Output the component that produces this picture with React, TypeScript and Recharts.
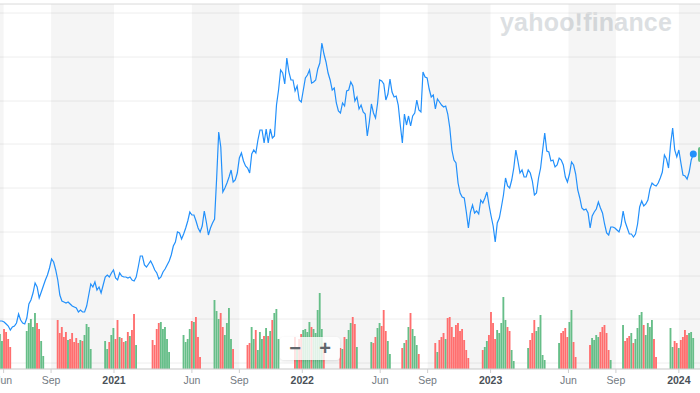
import React from 'react';
import {
  ComposedChart,
  Line,
  Bar,
  Cell,
  XAxis,
  YAxis,
  CartesianGrid,
  ReferenceArea,
  ReferenceLine,
  ReferenceDot,
} from 'recharts';

// ---- data (one sample every 4 calendar days, starting 2020-05-25) ----
const firstSession = '2020-05-25';
const stepDays = 4;

const closes2020 = [
  79, 79, 78, 76, 74, 70, 73, 74, 77, 86,
  80, 77, 76, 82, 96, 100, 107, 117, 113, 102,
  108, 114, 120, 125, 132, 141, 138, 130, 120, 105,
  99, 98, 97, 98, 96, 94, 93, 92, 88, 90,
  88, 88, 94, 105, 116, 113, 118, 110, 113, 107,
  115, 123, 125, 123, 127, 130,
];
const closes2021 = [
  122, 120, 127, 124,
  123, 123, 122, 123, 120, 119, 123, 133, 144, 144,
  135, 133, 136, 139, 135, 130, 127, 121, 123, 128,
  131, 135, 139, 145, 154, 158, 168, 167, 161, 166,
  172, 179, 188, 185, 185, 179, 172, 168, 174, 189,
  178, 165, 172, 177, 181, 222, 268, 253, 208, 212,
  217, 223, 230, 218, 220, 227, 242, 247, 239, 234,
  232, 227, 246, 250, 247, 260, 270, 270, 257, 271,
  257, 271, 262, 264, 295, 310, 330, 327, 316, 342,
  328, 320, 320, 309, 314, 300, 298,
];
const closes2022 = [
  310, 322, 325,
  330, 317, 318, 320, 331, 337, 357, 346, 338, 327,
  320, 310, 312, 297, 289, 287, 297, 294, 309, 310,
  318, 314, 299, 303, 291, 295, 288, 286, 264, 278,
  296, 287, 282, 297, 320, 319, 316, 300, 306, 321,
  308, 303, 304, 295, 275, 257, 286, 275, 284, 274,
  284, 287, 300, 290, 288, 328, 323, 322, 311, 303,
  305, 291, 301, 298, 295, 293, 294, 286, 272, 250,
  240, 237, 217, 207, 203, 202, 188, 172, 188, 195,
  187, 189, 186, 200, 197, 202, 208, 195,
];
const closes2023 = [
  184, 174,
  158, 177, 182, 193, 205, 222, 214, 212, 220, 232,
  250, 239, 227, 230, 223, 223, 230, 227, 219, 205,
  207, 222, 232, 250, 267, 249, 248, 239, 240, 233,
  235, 242, 240, 235, 223, 218, 226, 238, 235, 226,
  210, 202, 192, 190, 191, 187, 172, 184, 188, 191,
  198, 192, 187, 176, 167, 165, 173, 173, 172, 170,
  168, 175, 189, 178, 172, 166, 166, 163, 166, 176,
  193, 199, 194, 196, 200, 211, 217, 215, 214, 217,
  222, 228, 245, 241, 232, 256, 272, 250, 243, 250,
  237, 225, 224, 221, 228, 240, 246,
];

// volume runs: [first sample index, volumes...]
const volumeRuns: [number, number[]][] = [
  [0, [35, 28, 40, 37, 30, 22]],
  [13, [38, 46, 50, 42, 56, 46, 40, 28, 13]],
  [28, [49, 36, 42, 32, 37, 29, 30, 36, 27, 31, 26, 29, 28, 34, 45, 42, 20]],
  [51, [28, 20, 27, 34, 41, 30, 49, 32, 31, 27, 28, 37, 33, 39, 55, 24]],
  [74, [29, 24, 40, 46, 47, 40, 42, 30, 17]],
  [89, [34, 27, 30, 40, 48, 47, 52, 32, 12]],
  [104, [69, 58, 50, 56, 42, 34, 46, 61, 30, 20]],
  [120, [24, 26, 42, 30, 39, 19, 37, 30, 33, 41, 33, 38, 49, 56, 60, 30]],
  [143, [32, 22, 30, 35, 39, 40, 37, 47, 42, 40, 36, 59, 76, 40, 22]],
  [165, [21, 20, 32, 30, 39, 46, 52, 45, 22]],
  [180, [27, 26, 32, 41, 46, 43, 59, 38, 28, 15]],
  [195, [21, 26, 29, 42, 56, 40, 33, 24, 15]],
  [211, [26, 17, 29, 32, 36, 30, 51, 52, 42, 32, 44, 46, 38, 40, 29, 19, 11]],
  [234, [19, 22, 28, 34, 57, 46, 30, 39, 36, 46, 72, 49, 42, 38, 19, 8]],
  [256, [21, 29, 36, 49, 38, 42, 54, 14, 9]],
  [271, [26, 36, 38, 41, 32, 47, 59, 27, 12]],
  [286, [24, 31, 29, 34, 32, 37, 42, 44, 36, 19, 9]],
  [302, [44, 28, 31, 33, 36, 26, 30, 41, 54, 57, 44, 34, 46, 42, 49, 30, 12]],
  [325, [41, 22, 28, 26, 21, 29, 32, 39, 34, 36, 37, 31]],
];

const tickDates = [
  '2020-06-01', '2020-09-01', '2021-01-01', '2021-06-01', '2021-09-01', '2022-01-01',
  '2022-06-01', '2022-09-01', '2023-01-01', '2023-06-01', '2023-09-01', '2024-01-01',
];
const tickLabels = ['Jun', 'Sep', '2021', 'Jun', 'Sep', '2022', 'Jun', 'Sep', '2023', 'Jun', 'Sep', '2024'];

const shadedRanges: [string, string][] = [
  ['2020-05-25', '2020-06-01'],
  ['2020-09-01', '2021-01-01'],
  ['2021-06-01', '2021-09-01'],
  ['2022-01-01', '2022-06-01'],
  ['2022-09-01', '2023-01-01'],
  ['2023-06-01', '2023-09-01'],
  ['2024-01-01', '2024-02-11'],
];
const viewRange: [string, string] = ['2020-05-25', '2024-02-11'];
const priceRange: [number, number] = [31, 396];
const priceGrid = [37, 81, 124, 168, 212, 256, 299, 343, 387];
const volumeRange: [number, number] = [0, 365];

// ---- build table ----
const DAY = 86400000;
const ts = (d: string) => Date.parse(d + 'T00:00:00Z');
const closes = [...closes2020, ...closes2021, ...closes2022, ...closes2023];
const volumes: (number | null)[] = closes.map(() => null);
volumeRuns.forEach(([start, vals]) => vals.forEach((v, i) => { volumes[start + i] = v; }));
const data = closes.map((c, i) => ({
  t: ts(firstSession) + i * stepDays * DAY,
  price: c,
  volume: volumes[i],
  up: i === 0 ? true : c >= closes[i - 1],
}));
const tickTimes = tickDates.map(ts);
const last = data[data.length - 1];

const BLUE = '#2290fb';
const GREEN = '#66be88';
const RED = '#ff6e6e';
const FONT = "'Liberation Sans', Arial, Helvetica, sans-serif";

const AxisTick = (props: any) => {
  const { x, y, payload } = props;
  const idx = tickTimes.indexOf(payload.value);
  const label = idx >= 0 ? tickLabels[idx] : '';
  const isYear = /^\d{4}$/.test(label);
  return (
    <text
      x={x}
      y={y}
      dy={9}
      textAnchor="middle"
      fontSize={10.5}
      fontFamily={FONT}
      fontWeight={isYear ? 700 : 400}
      fill={isYear ? '#4a5158' : '#737a82'}
    >
      {label}
    </text>
  );
};

export default function App() {
  return (
    <div
      style={{
        position: 'absolute',
        left: 0,
        top: 0,
        width: 700,
        height: 393,
        overflow: 'hidden',
        background: '#ffffff',
      }}
    >
      <div
        style={{
          position: 'absolute',
          left: 500,
          top: 10,
          fontFamily: FONT,
          fontWeight: 700,
          fontSize: 25,
          lineHeight: '25px',
          color: '#dcdfe2',
          whiteSpace: 'nowrap',
          letterSpacing: 0.2,
        }}
      >
        yahoo!finance
      </div>
      <ComposedChart
        width={700}
        height={393}
        data={data}
        margin={{ top: 4, right: 0, bottom: 4, left: 0 }}
      >
        <CartesianGrid vertical={false} stroke="#eeeeee" yAxisId="price" />
        {shadedRanges.map(([a, b], i) => (
          <ReferenceArea
            key={i}
            x1={ts(a)}
            x2={ts(b)}
            yAxisId="price"
            fill="#000000"
            fillOpacity={0.04}
            stroke="none"
          />
        ))}
        <ReferenceLine y={priceRange[1]} yAxisId="price" stroke="#e2e2e2" />
        <XAxis
          dataKey="t"
          type="number"
          domain={[ts(viewRange[0]), ts(viewRange[1])]}
          allowDataOverflow
          ticks={tickTimes}
          interval={0}
          tick={<AxisTick />}
          tickSize={4}
          tickLine={{ stroke: '#cfcfcf' }}
          axisLine={{ stroke: '#cfcfcf' }}
          height={20}
        />
        <YAxis yAxisId="price" domain={priceRange} ticks={priceGrid} allowDataOverflow hide />
        <YAxis yAxisId="vol" domain={volumeRange} allowDataOverflow hide />
        <Bar dataKey="volume" yAxisId="vol" barSize={2.3} isAnimationActive={false}>
          {data.map((d, i) => (
            <Cell key={i} fill={d.up ? GREEN : RED} />
          ))}
        </Bar>
        <Line
          dataKey="price"
          yAxisId="price"
          type="linear"
          stroke={BLUE}
          strokeWidth={1.2}
          dot={false}
          isAnimationActive={false}
        />
        <ReferenceDot x={last.t} y={last.price} yAxisId="price" r={3.5} fill={BLUE} stroke="none" />
      </ComposedChart>
      <div
        style={{
          position: 'absolute',
          left: 280,
          top: 337,
          width: 60,
          height: 23,
          borderRadius: 4,
          background: 'rgba(255,255,255,0.8)',
          boxShadow: '0 1px 3px rgba(0,0,0,0.12)',
          display: 'flex',
          alignItems: 'center',
          fontFamily: FONT,
          fontWeight: 700,
          fontSize: 20,
          color: '#62666b',
        }}
      >
        <span style={{ width: 30, textAlign: 'center', lineHeight: '23px' }}>−</span>
        <span style={{ width: 30, textAlign: 'center', lineHeight: '23px' }}>+</span>
      </div>
      <div
        style={{
          position: 'absolute',
          left: 698,
          top: 147,
          width: 12,
          height: 15,
          borderRadius: 2,
          background: GREEN,
        }}
      />
    </div>
  );
}
